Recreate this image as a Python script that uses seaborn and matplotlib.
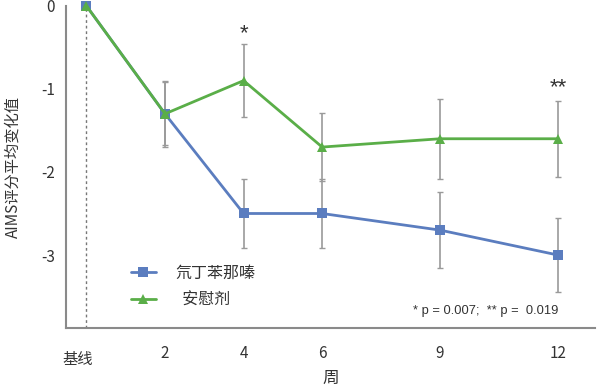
import pandas as pd
import matplotlib
matplotlib.use("Agg")
import matplotlib.pyplot as plt
from matplotlib.lines import Line2D
import seaborn as sns

# weeks (0 = baseline)
weeks = [0, 2, 4, 6, 9, 12]
drug_mean = [0, -1.3, -2.5, -2.5, -2.7, -3.0]
drug_err = [0, 0.38, 0.42, 0.42, 0.46, 0.45]
placebo_mean = [0, -1.3, -0.9, -1.7, -1.6, -1.6]
placebo_err = [0, 0.40, 0.44, 0.41, 0.48, 0.46]
tick_weeks = [2, 4, 6, 9, 12]
tick_labels = ["2", "4", "6", "9", "12"]
labels = ["氘丁苯那嗪", "安慰剂"]

blue = "#5b7dbf"
green = "#5aae48"
grey = "#9a9a9a"

sns.set_theme(style="white")
plt.rcParams['font.family'] = ['Noto Sans CJK SC', 'DejaVu Sans']

df = pd.DataFrame({
    "周": weeks * 2,
    "value": drug_mean + placebo_mean,
    "err": drug_err + placebo_err,
    "group": [labels[0]] * len(weeks) + [labels[1]] * len(weeks),
})

fig = plt.figure(figsize=(6, 3.92), dpi=100)
ax = fig.add_axes([0.11, 0.163, 0.882, 0.822])

# error bars first (drawn under the lines)
for g in labels:
    sub = df[df["group"] == g]
    ax.errorbar(sub["周"][1:], sub["value"][1:], yerr=sub["err"][1:], fmt="none",
                ecolor=grey, elinewidth=1.2, capsize=2.5, capthick=1.0, zorder=1)

sns.lineplot(data=df, x="周", y="value", hue="group", style="group",
             palette=[blue, green], markers=["s", "^"], dashes=False,
             linewidth=2.0, markersize=7, markeredgewidth=0, ax=ax, zorder=3,
             clip_on=False, legend=False)

ax.axvline(0, color="#777777", linestyle=(0, (2, 2)), linewidth=1.0, zorder=0)

ax.set_xlim(-0.52, 12.95)
ax.set_ylim(-3.88, 0.0)
ax.set_yticks([0, -1, -2, -3])
ax.set_yticklabels(["0", "-1", "-2", "-3"])
ax.set_xticks(tick_weeks)
ax.set_xticklabels(tick_labels)
ax.text(-0.23, -0.07, "基线", transform=ax.get_xaxis_transform(),
        ha="center", va="top", fontsize=11, color="#333333")

for s in ["top", "right"]:
    ax.spines[s].set_visible(False)
for s in ["left", "bottom"]:
    ax.spines[s].set_color("#8a8a8a")
    ax.spines[s].set_linewidth(1.5)
ax.tick_params(axis="both", direction="out", length=4, width=1.2, color="#8a8a8a",
               labelsize=11, labelcolor="#333333", pad=8)
ax.tick_params(axis="y", pad=4)

ax.set_xlabel("周", fontsize=12, color="#333333", labelpad=6)
ax.set_ylabel("AIMS评分平均变化值", fontsize=11, color="#333333", labelpad=14)

ax.text(4, -0.33, "*", ha="center", va="center", fontsize=16, color="#333333",
        family=["Liberation Sans", "DejaVu Sans"])
ax.text(12, -0.98, "**", ha="center", va="center", fontsize=16, color="#333333",
        family=["Liberation Sans", "DejaVu Sans"])
ax.text(10.15, -3.67, "* p = 0.007;  ** p =  0.019", ha="center", va="center",
        fontsize=9.3, color="#333333", family=["Liberation Sans", "DejaVu Sans"])

# legend
handles = [Line2D([], [], color=blue, marker="s", lw=2.0, markersize=7, mew=0),
           Line2D([], [], color=green, marker="^", lw=2.0, markersize=7, mew=0)]
leg = ax.legend(handles, [labels[0], "  " + labels[1]], loc="lower left",
                bbox_to_anchor=(0.095, 0.015), frameon=False, fontsize=11.5,
                handlelength=1.6, handletextpad=1.2, labelspacing=0.65)
for t in leg.get_texts():
    t.set_color("#333333")

fig.savefig("out.png", dpi=100)
